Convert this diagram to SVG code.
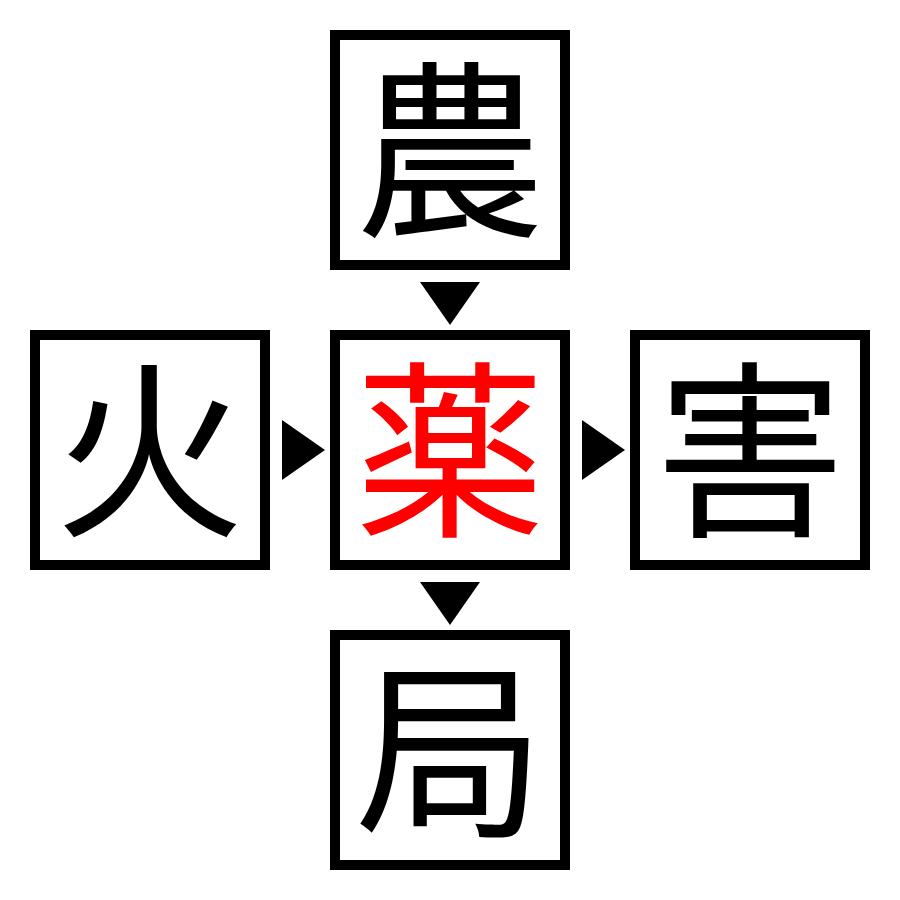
<svg xmlns="http://www.w3.org/2000/svg" width="900" height="900" viewBox="0 0 900 900">
<style>
.box{fill:#fff;stroke:#000;stroke-width:10}
.ch{font-family:"Noto Sans CJK JP","Noto Sans CJK SC",sans-serif;font-size:190px;text-anchor:middle;fill:#000}
.red{fill:#ff0000}
.arr{fill:#000}
</style>
<rect width="900" height="900" fill="#fff"/>
<g id="node-top"><rect class="box" x="335" y="35" width="230" height="230"/><text class="ch" x="450" y="222">農</text></g>
<g id="node-left"><rect class="box" x="35" y="335" width="230" height="230"/><text class="ch" x="150" y="522">火</text></g>
<g id="node-center"><rect class="box" x="335" y="335" width="230" height="230"/><text class="ch red" x="450" y="522">薬</text></g>
<g id="node-right"><rect class="box" x="635" y="335" width="230" height="230"/><text class="ch" x="750" y="522">害</text></g>
<g id="node-bottom"><rect class="box" x="335" y="635" width="230" height="230"/><text class="ch" x="450" y="822">局</text></g>
<g id="connectors">
<polygon class="arr" points="420,282 480,282 450,325"/>
<polygon class="arr" points="282,420 325,450 282,480"/>
<polygon class="arr" points="582,420 625,450 582,480"/>
<polygon class="arr" points="420,582 480,582 450,625"/>
</g>
</svg>
